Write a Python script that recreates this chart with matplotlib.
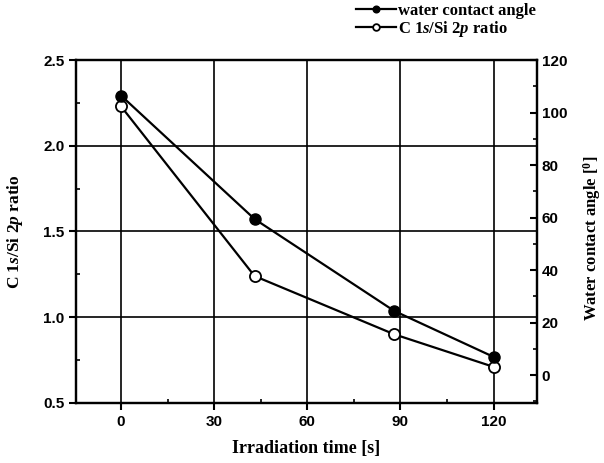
import matplotlib
matplotlib.use("Agg")
import matplotlib.pyplot as plt
from matplotlib.ticker import MultipleLocator

# data
time_s = [0, 43, 88, 120]
contact_angle = [106.5, 59.5, 24.5, 7.0]      # right axis, degrees
c_si_ratio = [2.23, 1.24, 0.90, 0.71]          # left axis

x_ticks = [0, 30, 60, 90, 120]
left_ticks = [0.5, 1.0, 1.5, 2.0, 2.5]
right_ticks = [0, 20, 40, 60, 80, 100, 120]

serif = "Liberation Serif"
sans = "Liberation Sans"

plt.rcParams["mathtext.fontset"] = "custom"
plt.rcParams["mathtext.rm"] = "Liberation Serif:bold"
plt.rcParams["mathtext.it"] = "Liberation Serif:italic:bold"
plt.rcParams["mathtext.bf"] = "Liberation Serif:bold"

fig = plt.figure(figsize=(6.04, 4.63), dpi=100)
ax = fig.add_axes([0.126, 0.130, 0.763, 0.740])
ax2 = ax.twinx()

# left axis: C 1s / Si 2p ratio
ax.plot(time_s, c_si_ratio, color="black", lw=1.6, marker="o", ms=8,
        mfc="white", mec="black", mew=1.3, zorder=5, label="C 1$s$/Si 2$p$ ratio")
ax.set_xlim(-14.5, 134)
ax.set_ylim(0.5, 2.5)
ax.set_xticks(x_ticks)
ax.set_yticks(left_ticks)
ax.xaxis.set_minor_locator(MultipleLocator(15))
ax.yaxis.set_minor_locator(MultipleLocator(0.25))
ax.grid(True, which="major", color="black", lw=1.2)
ax.set_axisbelow(True)
ax.tick_params(axis="both", which="major", direction="out", length=5, width=1.5)
ax.tick_params(axis="both", which="minor", direction="in", length=3, width=1.2)

# right axis: water contact angle
ax2.plot(time_s, contact_angle, color="black", lw=1.6, marker="o", ms=8,
         mfc="black", mec="black", zorder=6, label="water contact angle")
ax2.set_ylim(-10.5, 120)
ax2.set_yticks(right_ticks)
ax2.yaxis.set_minor_locator(MultipleLocator(10))
ax2.tick_params(axis="y", which="major", direction="in", length=5, width=1.5)
ax2.tick_params(axis="y", which="minor", direction="in", length=3, width=1.2)

for a in (ax, ax2):
    for sp in a.spines.values():
        sp.set_linewidth(1.6)
    for lab in a.get_xticklabels() + a.get_yticklabels():
        lab.set_fontfamily(sans)
        lab.set_fontweight("bold")
        lab.set_fontsize(11)

ax.set_xlabel("Irradiation time [s]", fontfamily=serif, fontweight="bold",
              fontsize=13)
ax.xaxis.set_label_coords(0.5, -0.108)
ax.set_ylabel("C 1$s$/Si 2$p$ ratio", fontfamily=serif,
              fontweight="bold", fontsize=12.5)
ax.yaxis.set_label_coords(-0.11, 0.5)
ax2.set_ylabel("Water contact angle [$^{0}$]", fontfamily=serif,
               fontweight="bold", fontsize=12)
ax2.yaxis.set_label_coords(1.096, 0.48)

h1, l1 = ax2.get_legend_handles_labels()
h2, l2 = ax.get_legend_handles_labels()
fig.legend(h1 + h2, l1 + l2, loc="upper left", bbox_to_anchor=(0.578, 1.008),
           frameon=False, handlelength=2.4, handletextpad=0.15,
           labelspacing=0.0, borderaxespad=0.0, markerscale=0.6,
           prop={"family": serif, "weight": "bold", "size": 12})

fig.savefig("out.png", dpi=100)
